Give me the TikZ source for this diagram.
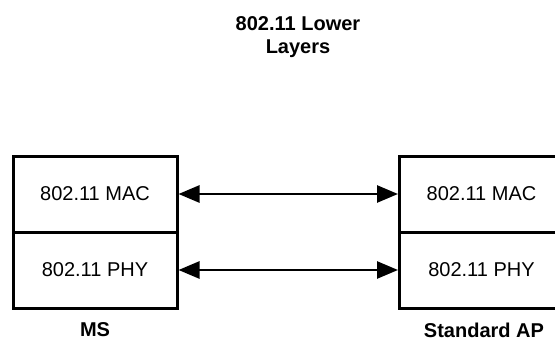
\documentclass[tikz,border=0pt]{standalone}
\usepackage{fontspec}
\setmainfont{Liberation Sans}
\usetikzlibrary{arrows.meta}
\tikzset{
  layer/.style={draw, line width=3pt, minimum width=164pt, minimum height=76pt,
    inner sep=0pt, font=\fontsize{20}{24}\selectfont},
  caption/.style={font=\fontsize{20}{23}\selectfont\bfseries, align=center, inner sep=0pt},
  link/.style={line width=2.6pt, {Triangle[length=21pt,width=17pt]}-{Triangle[length=21pt,width=17pt]}}
}
\begin{document}
\begin{tikzpicture}[x=1pt,y=-1pt]
    \clip (0,0) rectangle (555,340);
    \node[caption] (title) at (298,37) {802.11 Lower\\Layers};
    % station stack
    \node[layer] (msmac) at (95,194) {802.11 MAC};
    \node[layer] (msphy) at (95,270) {802.11 PHY};
    % access point stack
    \node[layer] (apmac) at (481.5,194) {802.11 MAC};
    \node[layer] (apphy) at (481.5,270) {802.11 PHY};
    \node[caption] (ms) at (95,330) {MS};
    \node[caption] (ap) at (484,330) {Standard AP};
    \draw[link] (msmac) -- (apmac);
    \draw[link] (msphy) -- (apphy);
\end{tikzpicture}
\end{document}
